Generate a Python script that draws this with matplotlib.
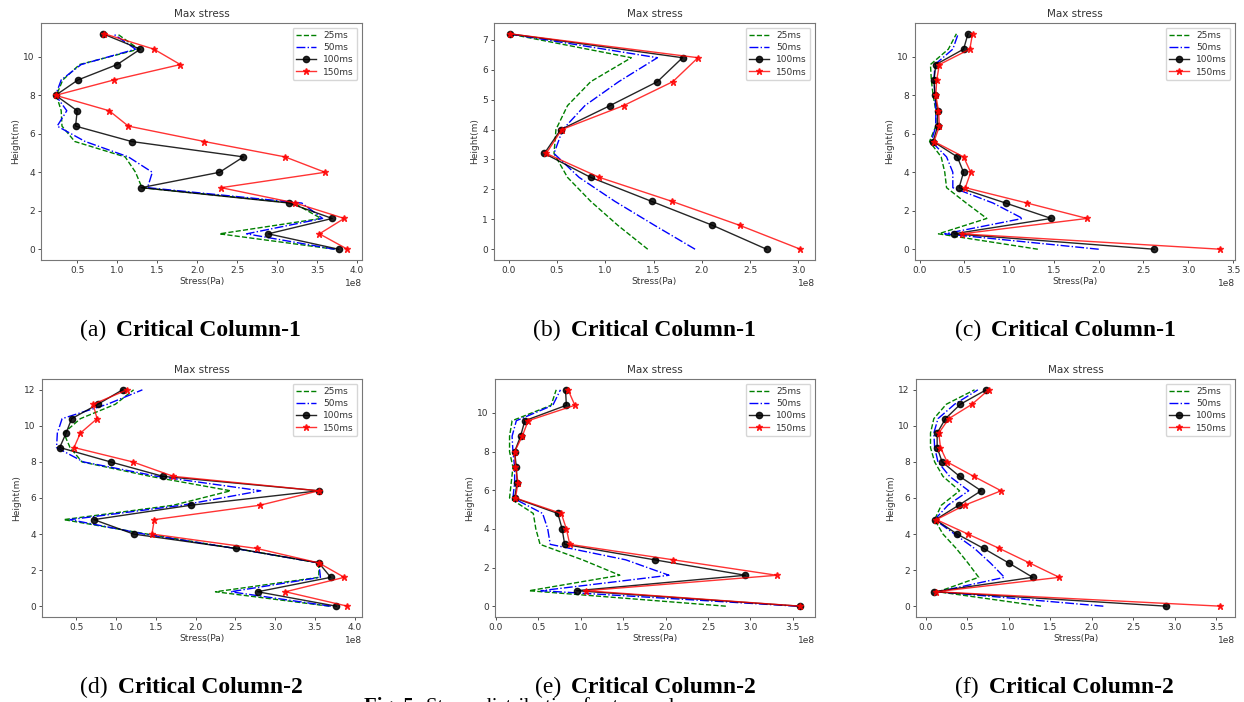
import matplotlib.pyplot as plt

W, H = 1244, 702

# heights along the column (m)
heights_7 = [0.0, 0.8, 1.6, 2.4, 3.2, 4.0, 4.8, 5.6, 6.4, 7.2]
heights_11 = [0.0, 0.8, 1.6, 2.4, 3.2, 4.0, 4.8, 5.6, 6.4, 7.2, 8.0, 8.8, 9.6, 10.4, 11.2]
heights_12 = [0.0, 0.8, 1.6, 2.4, 3.2, 4.0, 4.8, 5.6, 6.4, 7.2, 8.0, 8.8, 9.6, 10.4, 11.2, 12.0]

# max stress (x1e8 Pa), bottom to top, per time step
a_25 = [3.72, 2.28, 3.55, 3.21, 1.31, 1.23, 1.10, 0.47, 0.31, 0.30, 0.24, 0.32, 0.53, 1.27, 1.00]
a_50 = [3.72, 2.62, 3.57, 3.31, 1.38, 1.44, 1.14, 0.60, 0.25, 0.37, 0.23, 0.30, 0.55, 1.23, 0.95]
a_100 = [3.77, 2.89, 3.69, 3.15, 1.30, 2.28, 2.58, 1.18, 0.48, 0.50, 0.23, 0.51, 1.00, 1.29, 0.82]
a_150 = [3.88, 3.53, 3.84, 3.23, 2.30, 3.60, 3.10, 2.09, 1.14, 0.90, 0.23, 0.96, 1.79, 1.46, 0.84]

b_25 = [1.44, 1.13, 0.85, 0.61, 0.47, 0.49, 0.61, 0.85, 1.27, 0.00]
b_50 = [1.93, 1.51, 1.10, 0.73, 0.47, 0.56, 0.79, 1.14, 1.54, 0.00]
b_100 = [2.67, 2.11, 1.48, 0.85, 0.37, 0.54, 1.05, 1.54, 1.80, 0.01]
b_150 = [3.02, 2.39, 1.69, 0.94, 0.39, 0.55, 1.19, 1.70, 1.96, 0.01]

c_25 = [1.32, 0.21, 0.75, 0.52, 0.30, 0.28, 0.24, 0.11, 0.18, 0.18, 0.15, 0.13, 0.12, 0.32, 0.41]
c_50 = [2.00, 0.28, 1.15, 0.82, 0.37, 0.37, 0.30, 0.13, 0.18, 0.18, 0.17, 0.16, 0.17, 0.37, 0.43]
c_100 = [2.62, 0.38, 1.47, 0.96, 0.44, 0.49, 0.42, 0.15, 0.20, 0.20, 0.17, 0.16, 0.18, 0.49, 0.54]
c_150 = [3.36, 0.47, 1.87, 1.20, 0.51, 0.57, 0.49, 0.16, 0.22, 0.21, 0.18, 0.19, 0.22, 0.56, 0.59]

d_25 = [3.68, 2.25, 3.55, 3.55, 2.50, 1.39, 0.34, 1.72, 2.44, 1.43, 0.57, 0.42, 0.34, 0.55, 0.99, 1.22]
d_50 = [3.70, 2.44, 3.57, 3.55, 2.50, 1.35, 0.42, 1.83, 2.82, 1.52, 0.59, 0.25, 0.26, 0.32, 0.89, 1.33]
d_100 = [3.77, 2.78, 3.70, 3.55, 2.51, 1.22, 0.72, 1.94, 3.55, 1.59, 0.93, 0.29, 0.37, 0.44, 0.77, 1.08]
d_150 = [3.91, 3.13, 3.87, 3.55, 2.77, 1.45, 1.48, 2.81, 3.55, 1.72, 1.21, 0.47, 0.55, 0.76, 0.71, 1.14]

e_25 = [2.71, 0.39, 1.46, 1.02, 0.52, 0.47, 0.44, 0.16, 0.18, 0.20, 0.16, 0.16, 0.19, 0.65, 0.71]
e_50 = [3.55, 0.53, 2.04, 1.53, 0.64, 0.61, 0.55, 0.20, 0.22, 0.22, 0.20, 0.19, 0.24, 0.67, 0.76]
e_100 = [3.58, 0.95, 2.94, 1.87, 0.81, 0.78, 0.73, 0.22, 0.25, 0.24, 0.22, 0.29, 0.34, 0.83, 0.82]
e_150 = [3.59, 1.06, 3.31, 2.09, 0.87, 0.83, 0.77, 0.23, 0.26, 0.23, 0.22, 0.31, 0.38, 0.93, 0.85]

f_25 = [1.39, 0.15, 0.64, 0.51, 0.37, 0.21, 0.11, 0.19, 0.41, 0.21, 0.11, 0.06, 0.06, 0.10, 0.25, 0.59]
f_50 = [2.14, 0.15, 0.95, 0.78, 0.59, 0.35, 0.11, 0.27, 0.52, 0.29, 0.15, 0.11, 0.10, 0.15, 0.35, 0.63]
f_100 = [2.90, 0.10, 1.29, 1.00, 0.70, 0.38, 0.12, 0.40, 0.67, 0.41, 0.20, 0.14, 0.14, 0.24, 0.42, 0.73]
f_150 = [3.55, 0.13, 1.61, 1.25, 0.89, 0.51, 0.13, 0.47, 0.91, 0.58, 0.26, 0.18, 0.16, 0.28, 0.56, 0.76]

labels = ["25ms", "50ms", "100ms", "150ms"]
tags = ["(a)", "(b)", "(c)", "(d)", "(e)", "(f)"]
captions = ["Critical Column-1"] * 3 + ["Critical Column-2"] * 3

panels = [
    (heights_11, [a_25, a_50, a_100, a_150]),
    (heights_7, [b_25, b_50, b_100, b_150]),
    (heights_11, [c_25, c_50, c_100, c_150]),
    (heights_12, [d_25, d_50, d_100, d_150]),
    (heights_11, [e_25, e_50, e_100, e_150]),
    (heights_12, [f_25, f_50, f_100, f_150]),
]

# axes boxes in pixels: left, right, top, bottom
boxes = [
    (41, 362, 23, 260), (494, 815, 23, 260), (915, 1235, 23, 260),
    (42, 362, 379, 617), (495, 815, 379, 617), (916, 1235, 379, 617),
]
caption_x = [80, 533, 955, 80, 535, 955]
caption_y = [336, 336, 336, 693, 693, 693]

styles = [
    dict(color="green", ls="--", lw=1.0),
    dict(color="blue", ls="-.", lw=1.0),
    dict(color="black", ls="-", lw=1.0, marker="o", ms=4.5, alpha=0.85),
    dict(color="red", ls="-", lw=1.0, marker="*", ms=4.5, alpha=0.8),
]

text_c = "#333333"
serif = "Liberation Serif"
fig = plt.figure(figsize=(W / 100, H / 100), dpi=100)
renderer = fig.canvas.get_renderer()


def text_pair(x_px, y_px, first, second, first_bold, size, gap):
    # two runs of text on one baseline, the second placed after the first
    y = 1 - y_px / H
    t1 = fig.text(x_px / W, y, first, fontsize=size, family=serif,
                  weight="bold" if first_bold else "normal", va="baseline")
    x_end = t1.get_window_extent(renderer).x1
    fig.text((x_end + gap) / W, y, second, fontsize=size, family=serif,
             weight="normal" if first_bold else "bold", va="baseline")


for i, ((hts, series), (l, r, t, b)) in enumerate(zip(panels, boxes)):
    ax = fig.add_axes((l / W, 1 - b / H, (r - l) / W, (b - t) / H))
    for vals, lab, st in zip(series, labels, styles):
        ax.plot([v * 1e8 for v in vals], hts, label=lab, **st)
    ax.set_title("Max stress", fontsize=7.5, color=text_c, pad=4)
    ax.set_xlabel("Stress(Pa)", fontsize=6.5, color=text_c, labelpad=1)
    ax.set_ylabel("Height(m)", fontsize=6.5, color=text_c, labelpad=2)
    ax.tick_params(labelsize=6.5, colors=text_c, length=2.5, width=0.6, pad=2)
    ax.xaxis.get_offset_text().set_fontsize(6.5)
    ax.xaxis.get_offset_text().set_color(text_c)
    for sp in ax.spines.values():
        sp.set_color("#777777")
        sp.set_linewidth(0.8)
    leg = ax.legend(loc="upper right", fontsize=6.5, handlelength=2.2,
                    labelspacing=0.35, borderpad=0.4)
    for txt in leg.get_texts():
        txt.set_color(text_c)

    text_pair(caption_x[i], caption_y[i], tags[i], captions[i], False, 17, 10)

# figure caption, mostly below the bottom edge
text_pair(364, 712, "Fig. 5:", "Stress distribution for two columns", True, 15, 5)

fig.savefig("out.png", dpi=100)
